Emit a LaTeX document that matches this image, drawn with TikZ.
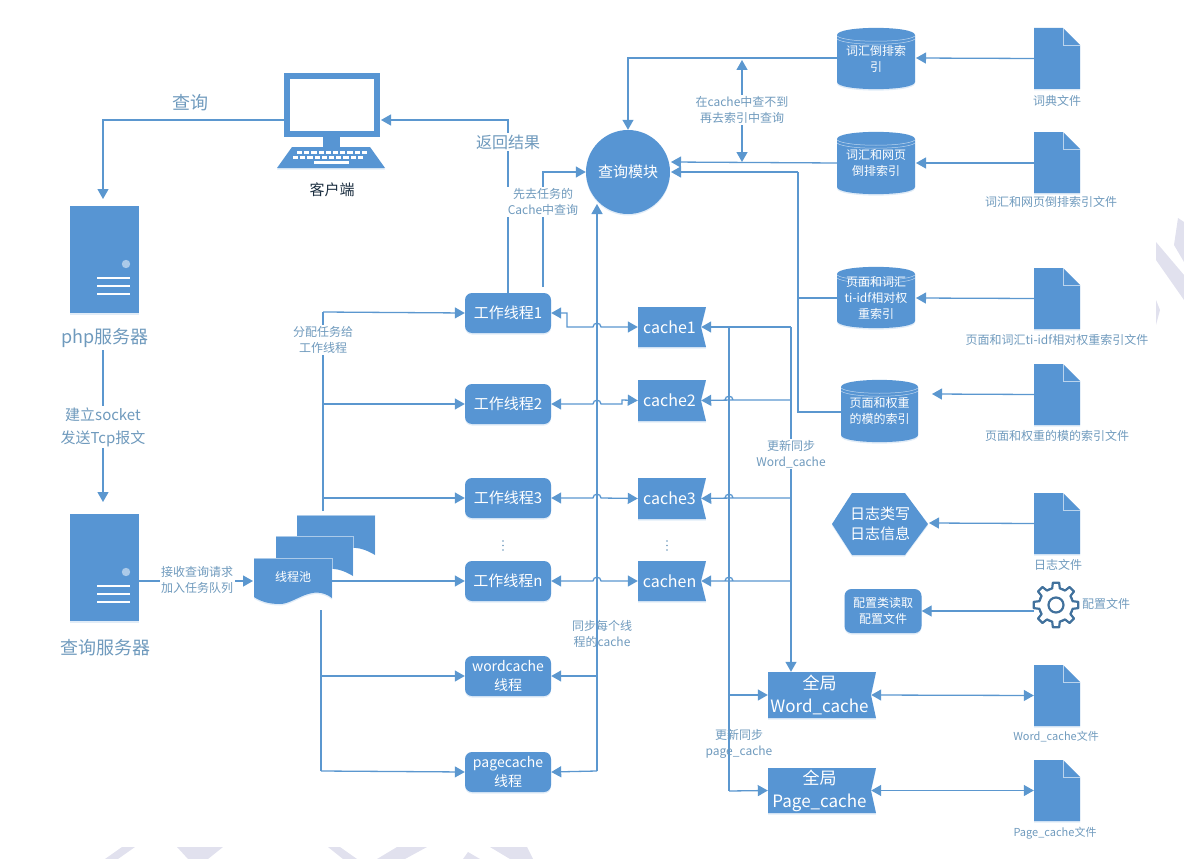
\documentclass[tikz,border=0pt]{standalone}
\usepackage{fontspec}
\setmainfont{Noto Sans CJK SC}
\usetikzlibrary{arrows.meta,shadows}
\definecolor{myblue}{HTML}{5795D3}
\definecolor{myline}{HTML}{5B97CF}
\definecolor{mylabel}{HTML}{6F9ABD}
\definecolor{mygear}{HTML}{41719C}
\definecolor{mywater}{HTML}{E1E1EE}

\tikzset{
	flow/.style={draw=myline, line width=1.3pt, -{Triangle[length=10pt,width=11pt]}},
	flowboth/.style={draw=myline, line width=1.3pt, {Triangle[length=10pt,width=11pt]}-{Triangle[length=10pt,width=11pt]}},
	wire/.style={draw=myline, line width=1.3pt},
	shade/.style={drop shadow={shadow xshift=0pt,shadow yshift=-1.5pt,opacity=.18,fill=myblue}},
	worker/.style={fill=myblue, rounded corners=7pt, minimum width=86pt, minimum height=40pt, inner sep=0pt, align=center, text=white, font=\fontsize{15}{19}\selectfont, shade},
	boxtext/.style={inner sep=0pt, align=center, text=white},
	tag/.style={align=center, text=mylabel, inner sep=1.5pt, font=\fontsize{12}{16}\selectfont},
	tagback/.style={tag, fill=white},
	big/.style={align=center, text=mylabel, inner sep=1.5pt, font=\fontsize{16}{22}\selectfont},
}

\def\hop#1#2{-- ({#1-4},#2) .. controls ({#1-4},{#2-5}) and ({#1+4},{#2-5}) .. ({#1+4},#2)}
\def\flagbox(#1)(#2,#3,#4,#5)[#6]#7{
	\fill[myblue, shade] (#2,#3) -- (#4,#3) -- ({#4-5},{(#3+#5)/2}) -- (#4,#5) -- (#2,#5) -- cycle;
	\node[boxtext, font=#6, minimum width={#4-5-#2}, minimum height={#5-#3}] (#1) at ({(#2+#4-5)/2},{(#3+#5)/2}) {#7};
}
\def\dbbox(#1)(#2,#3,#4,#5)#6{
	\fill[myblue, shade] (#2,{#3+7}) .. controls (#2,{#3-2.5}) and (#4,{#3-2.5}) .. (#4,{#3+7}) -- (#4,{#5-7}) .. controls (#4,{#5+2.5}) and (#2,{#5+2.5}) .. (#2,{#5-7}) -- cycle;
	\draw[white, opacity=.6, line width=.5pt] (#2,{#3+8}) .. controls ({#2+8},{#3+15}) and ({#4-8},{#3+15}) .. (#4,{#3+8});
	\draw[white, opacity=.6, line width=.5pt] (#2,{#3+11}) .. controls ({#2+8},{#3+18}) and ({#4-8},{#3+18}) .. (#4,{#3+11});
	\node[boxtext, font=\fontsize{12}{16}\selectfont, minimum width={#4-#2}, minimum height={#5-#3}] (#1) at ({(#2+#4)/2},{(#3+#5)/2}) {#6};
}
\def\docbox(#1)(#2,#3){
	\fill[myblue, shade] (#2,#3) -- ({#2+29},#3) -- ({#2+46},{#3+17}) -- ({#2+46},{#3+61}) -- (#2,{#3+61}) -- cycle;
	\draw[white, opacity=.6, line width=.5pt] ({#2+29},#3) -- ({#2+29},{#3+17}) -- ({#2+46},{#3+17});
	\node[inner sep=0pt, minimum width=46pt, minimum height=61pt] (#1) at ({#2+23},{#3+30.5}) {};
}
\def\serverbox(#1)(#2,#3){
	\node[fill=myblue, minimum width=69pt, minimum height=107pt, inner sep=0pt, shade] (#1) at ({#2+34.5},{#3+53.5}) {};
	\fill[white, opacity=.5] ({#2+56},{#3+58}) circle (4.2);
	\foreach \linepos in {72,80,88} {
		\draw[white, line width=2pt] ({#2+27},{#3+\linepos}) -- ({#2+60},{#3+\linepos});
	}
}

\begin{document}
\begin{tikzpicture}[x=1pt,y=-1pt]
	\useasboundingbox (0,0) rectangle (1184,859);
	%%%%% WATERMARK %%%%%
	\fill[mywater] (122,847) -- (135,847) -- (118,859) -- (105,859) -- cycle;
	\fill[mywater] (177,847) -- (223,847) -- (208,859) -- (188,859) -- cycle;
	\fill[mywater] (328,847) -- (340,847) -- (357,859) -- (343,859) -- cycle;
	\fill[mywater] (397,847) -- (427,847) -- (405,859) -- (377,859) -- cycle;
	\fill[mywater] (468,852) -- (480,859) -- (463,859) -- cycle;
	\fill[mywater] (490,847) -- (527,847) -- (533,859) -- (510,859) -- cycle;
	\fill[mywater] (1156,242) -- (1184,275) -- (1184,300) -- (1156,260) -- cycle;
	\fill[mywater] (1178,218) -- (1184,222) -- (1184,262) -- (1174,245) -- cycle;
	\fill[mywater] (1156,300) -- (1160,310) -- (1156,325) -- cycle;

	%%%%% CLIENT %%%%%
	\draw[myblue, line width=6pt] (287,76) rectangle (377,134);
	\fill[myblue] (323,137) rectangle (340,148);
	\fill[myblue, shade] (292,147) -- (370,147) -- (385,168) -- (277,168) -- cycle;
	\foreach \rowy/\rowx in {151/297,155.5/293} {
		\foreach \keyn in {0,...,9} {
			\fill[white] ({\rowx+\keyn*7.2},\rowy) rectangle ({\rowx+\keyn*7.2+5.2},{\rowy+3});
		}
	}
	\fill[white] (314,161) rectangle (349,164);
	\node[inner sep=0pt, minimum width=108pt, minimum height=96pt] (client) at (332,121) {};
	\node[inner sep=0pt, text=black!70!myblue, font=\fontsize{15}{19}\selectfont] (clientname) at (332,190) {客户端};

	%%%%% SERVERS %%%%%
	\serverbox(php)(70,206)
	\serverbox(search)(70,514)
	\node[big, font=\fontsize{18}{24}\selectfont] (phpname) at (105,337.5) {php服务器};
	\node[big, font=\fontsize{18}{24}\selectfont] (searchname) at (105,648) {查询服务器};

	%%%%% THREAD POOL %%%%%
	\fill[myblue] (297,515) -- (375,515) -- (375,555) .. controls (360,546) and (350,546) .. (336,552) -- (297,552) -- cycle;
	\draw[white, opacity=.5, line width=.5pt] (297,515) -- (375,515) -- (375,555);
	\fill[myblue] (276,536) -- (353,536) -- (353,576) .. controls (338,567) and (328,567) .. (315,573) -- (276,573) -- cycle;
	\draw[white, opacity=.5, line width=.5pt] (276,536) -- (353,536) -- (353,576);
	\fill[myblue, shade] (254,558) -- (332,558) -- (332,598) .. controls (312,583) and (295,604) .. (280,604) .. controls (268,604) and (260,601) .. (254,597) -- cycle;
	\draw[white, opacity=.5, line width=.5pt] (254,558) -- (332,558) -- (332,598);
	\node[boxtext, minimum width=78pt, minimum height=40pt, font=\fontsize{12}{16}\selectfont] (pool) at (293,579) {\raisebox{5pt}{线程池}};

	%%%%% WORKERS %%%%%
	\node[worker] (wt1) at (508,313) {工作线程1};
	\node[worker] (wt2) at (508,404) {工作线程2};
	\node[worker] (wt3) at (508,498) {工作线程3};
	\node[worker] (wtn) at (508,581) {工作线程n};
	\node[worker, font=\fontsize{14}{19}\selectfont] (wordthread) at (508,676) {wordcache\\线程};
	\node[worker, font=\fontsize{14}{19}\selectfont] (pagethread) at (508,772) {pagecache\\线程};
	\foreach \dotx in {503,667} {
		\foreach \doty in {541,545.5,550} {
			\fill[mylabel] (\dotx,\doty) circle (0.9);
		}
	}

	%%%%% CACHES %%%%%
	\flagbox(cache1)(638,307,706,347)[\fontsize{16}{20}\selectfont]{cache1}
	\flagbox(cache2)(638,380,706,421)[\fontsize{16}{20}\selectfont]{cache2}
	\flagbox(cache3)(638,478,706,519)[\fontsize{16}{20}\selectfont]{cache3}
	\flagbox(cachen)(638,561,706,601)[\fontsize{16}{20}\selectfont]{cachen}
	\flagbox(wordglobal)(768,672,876,718)[\fontsize{17}{23}\selectfont]{全局\\Word\_cache}
	\flagbox(pageglobal)(768,768,876,813)[\fontsize{17}{23}\selectfont]{全局\\Page\_cache}

	%%%%% QUERY MODULE %%%%%
	\node[circle, fill=myblue, minimum size=84pt, inner sep=0pt, text=white, font=\fontsize{15}{19}\selectfont, shade] (query) at (628,172) {查询模块};

	%%%%% INDEXES %%%%%
	\dbbox(db1)(837,28,915,89){词汇倒排索\\引}
	\dbbox(db2)(837,132,915,194){词汇和网页\\倒排索引}
	\dbbox(db3)(837,267,915,328){页面和词汇\\ti-idf相对权\\重索引}
	\dbbox(db4)(841,380,918,442){页面和权重\\的模的索引}

	%%%%% FILES %%%%%
	\docbox(doc1)(1034,28)
	\docbox(doc2)(1034,132)
	\docbox(doc3)(1034,268)
	\docbox(doc4)(1034,364)
	\docbox(doc5)(1034,493)
	\docbox(doc6)(1034,665)
	\docbox(doc7)(1034,760)
	\node[tag] (doc1name) at (1057,101) {词典文件};
	\node[tag] (doc2name) at (1051,202) {词汇和网页倒排索引文件};
	\node[tag] (doc3name) at (1057,340) {页面和词汇ti-idf相对权重索引文件};
	\node[tag] (doc4name) at (1057,436) {页面和权重的模的索引文件};
	\node[tag] (doc5name) at (1058,565) {日志文件};
	\node[tag, font=\fontsize{11}{15}\selectfont] (doc6name) at (1056,737) {Word\_cache文件};
	\node[tag, font=\fontsize{11}{15}\selectfont] (doc7name) at (1055,833) {Page\_cache文件};

	%%%%% LOG AND CONFIG %%%%%
	\fill[myblue, shade] (832,524) -- (852,493) -- (905,493) -- (928,524) -- (905,555) -- (852,555) -- cycle;
	\node[boxtext, minimum width=96pt, minimum height=62pt, font=\fontsize{15}{20}\selectfont] (log) at (880,524) {日志类写\\日志信息};
	\node[fill=myblue, rounded corners=7pt, minimum width=77pt, minimum height=44pt, inner sep=0pt, align=center, text=white, font=\fontsize{12}{16}\selectfont, shade] (config) at (883,611) {配置类读取\\配置文件};
	\foreach \gearang in {0,45,...,315} {
		\draw[mygear, line width=2.2pt, line join=round] ([shift={(1056,605)}]\gearang-24:17) -- ([shift={(1056,605)}]\gearang-13:17) -- ([shift={(1056,605)}]\gearang-8:22.5) -- ([shift={(1056,605)}]\gearang+8:22.5) -- ([shift={(1056,605)}]\gearang+13:17) -- ([shift={(1056,605)}]\gearang+24:17);
	}
	\node[circle, draw=mygear, line width=2.2pt, minimum size=15pt, inner sep=0pt] (gearhole) at (1056,605) {};
	\node[inner sep=0pt, minimum size=46pt] (gear) at (1056,605) {};
	\node[tag] (gearname) at (1106,604) {配置文件};

	%%%%% CONNECTORS %%%%%
	\coordinate (phpin) at (103,199);
	\coordinate (bendphp) at (103,120);
	\coordinate (returnin) at (381,120);
	\coordinate (bendret) at (508,120);
	\draw[flow] (284,120) -- (bendphp) -- (phpin);
	\node[big, font=\fontsize{18}{24}\selectfont] (asktag) at (190,103) {查询};
	\draw[flow] (508,293) -- (bendret) -- (returnin);
	\node[big, fill=white] (rettag) at (508,142) {返回结果};
	\draw[flow] (543,287) -- (543,172) -- (query.west);
	\node[tagback] (firsttag) at (543,202) {先去任务的\\Cache中查询};

	\draw[wire] (103,350) -- (103,400);
	\draw[flow] (103,400) -- (103,502);
	\node[big, fill=white, font=\fontsize{15}{23}\selectfont] (socket) at (103,427) {建立socket\\发送Tcp报文};

	\coordinate (poolin) at (253,581);
	\draw[flow] (139,581) -- (poolin);
	\node[tagback] (recvtag) at (197,580) {接收查询请求\\加入任务队列};

	\draw[wire] (323,511) -- (323,312);
	\draw[flow] (323,312) -- (wt1.west);
	\draw[flow] (323,404) -- (wt2.west);
	\draw[flow] (323,498) -- (wt3.west);
	\draw[flow] (332,581) -- (wtn.west);
	\draw[wire] (321,610) -- (321,771);
	\draw[flow] (321,676) -- (wordthread.west);
	\draw[flow] (321,771) -- (pagethread.west);
	\node[tagback] (assigntag) at (323,340) {分配任务给\\工作线程};

	\draw[flow] (597,771) -- (597,204);
	\draw[flow] (597,676) -- (wordthread.east);
	\draw[flow] (597,771) -- (pagethread.east);
	\node[tag] (synctag) at (602,634) {同步每个线\\程的cache};

	\draw[flowboth] (wt1.east) -- (567,313) -- (567,327) \hop{597}{327} -- (cache1.west);
	\draw[flowboth] (wt2.east) \hop{597}{404} -- (622,404) -- (622,400) -- (cache2.west);
	\draw[flowboth] (wt3.east) \hop{597}{498} -- (cache3.west);
	\draw[flowboth] (wtn.east) \hop{597}{581} -- (cachen.west);

	\draw[flow] (791,327) -- (cache1.east);
	\draw[flow] (791,400) \hop{729}{400} -- (cache2.east);
	\draw[flow] (791,498) \hop{729}{498} -- (cache3.east);
	\draw[flow] (791,581) \hop{729}{581} -- (cachen.east);
	\draw[flow] (791,327) -- (wordglobal.north -| 791,0);
	\node[tagback] (wordtag) at (791,454) {更新同步\\Word\_cache};

	\draw[wire] (729,327) -- (729,791);
	\draw[flow] (729,695) -- (wordglobal.west);
	\draw[flow] (729,791) -- (pageglobal.west);
	\node[tag] (pagetag) at (739,744) {更新同步\\page\_cache};

	\coordinate (indexin) at (798,172);
	\draw[flow] (db1.west |- 0,58) -- (628,58) -- (query.north);
	\draw[flow] (837,163) -- (671,162);
	\draw[wire] (837,298) -- (798,298);
	\draw[wire] (841,412) -- (798,412) -- (indexin);
	\draw[flow] (indexin) -- (671,172);
	\draw[flowboth] (742,60) -- (742,162);
	\node[tagback] (misstag) at (742,110) {在cache中查不到\\再去索引中查询};

	\coordinate (db4in) at (932,394);
	\draw[flow] (doc1.west) -- (916,58);
	\draw[flow] (doc2.west |- 0,163) -- (916,163);
	\draw[flow] (doc3.west) -- (916,298);
	\draw[flow] (doc4.west) -- (db4in);
	\draw[flow] (doc5.west) -- (929,523);
	\draw[flow] (1034,611) -- (config.east);
	\draw[flowboth] (wordglobal.east) -- (doc6.west);
	\draw[flowboth] (pageglobal.east) -- (doc7.west);
\end{tikzpicture}
\end{document}
